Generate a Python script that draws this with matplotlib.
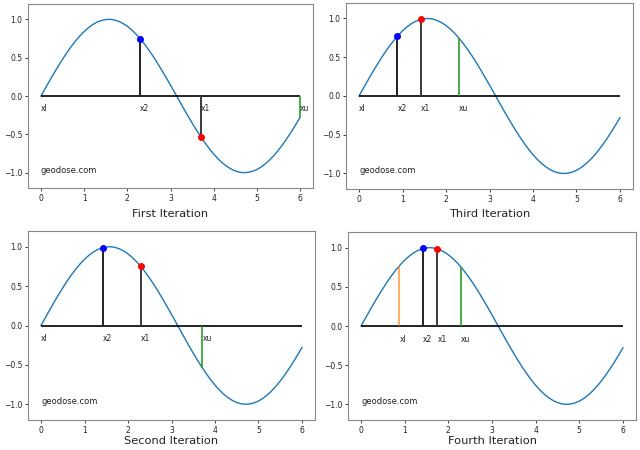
import numpy as np
import matplotlib
matplotlib.use("Agg")
import matplotlib.pyplot as plt

curve_x = np.linspace(0, 6, 61)
curve_y = [0.000, 0.100, 0.199, 0.296, 0.389, 0.479, 0.565, 0.644, 0.717, 0.783,
           0.841, 0.891, 0.932, 0.964, 0.985, 0.997, 1.000, 0.992, 0.974, 0.946,
           0.909, 0.863, 0.808, 0.746, 0.675, 0.598, 0.516, 0.427, 0.335, 0.239,
           0.141, 0.042, -0.058, -0.158, -0.256, -0.351, -0.443, -0.530, -0.612, -0.688,
           -0.757, -0.818, -0.872, -0.916, -0.952, -0.978, -0.994, -1.000, -0.996, -0.982,
           -0.959, -0.926, -0.883, -0.832, -0.773, -0.706, -0.631, -0.551, -0.465, -0.374,
           -0.279]

titles = ["First Iteration", "Second Iteration", "Third Iteration", "Fourth Iteration"]
xl = [0.0, 0.0, 0.0, 0.88]
x2 = [2.29, 1.42, 0.88, 1.42]
x1 = [3.71, 2.29, 1.42, 1.75]
xu = [6.0, 3.71, 2.29, 2.29]
f_xl = [0.0, 0.0, 0.0, 0.77]
f_x2 = [0.75, 0.99, 0.77, 0.99]
f_x1 = [-0.54, 0.75, 0.99, 0.98]
f_xu = [-0.28, -0.54, 0.75, 0.75]
point_labels = ["xl", "x2", "x1", "xu"]
watermark = "geodose.com"

W, H = 640, 450
# axes boxes in pixels: left, top, right, bottom
boxes = [
    (28, 4, 313, 188),     # First (top-left)
    (28, 231, 315, 420),   # Second (bottom-left)
    (346, 3, 633, 189),    # Third (top-right)
    (348, 232, 636, 420),  # Fourth (bottom-right)
]
title_y = [217, 444, 217, 444]

fig = plt.figure(figsize=(6.4, 4.5), dpi=100)
for i in range(4):
    l, t, r, b = boxes[i]
    ax = fig.add_axes([l / W, 1 - b / H, (r - l) / W, (b - t) / H])
    ax.plot(curve_x, curve_y, color="#1f77b4", lw=1.0)
    ax.hlines(0, curve_x[0], curve_x[-1], color="k", lw=1.2)
    ax.vlines(xl[i], 0, f_xl[i], color="#ff7f0e", lw=1.2, alpha=0.75)
    ax.vlines(x2[i], 0, f_x2[i], color="#222222", lw=1.4)
    ax.vlines(x1[i], 0, f_x1[i], color="#3a3a3a", lw=1.4)
    ax.vlines(xu[i], 0, f_xu[i], color="#2ca02c", lw=1.2)
    ax.plot([x2[i]], [f_x2[i]], "o", color="b", ms=4)
    ax.plot([x1[i]], [f_x1[i]], "o", color="r", ms=4)
    for xv, lab in zip([xl[i], x2[i], x1[i], xu[i]], point_labels):
        ax.text(xv, -0.2, lab, fontsize=5.5, color="#222222")
    ax.text(0, -1.0, watermark, fontsize=6, color="#222222")
    ax.set_xlim(-0.3, 6.3)
    ax.set_ylim(-1.2, 1.2)
    ax.set_xticks([0, 1, 2, 3, 4, 5, 6])
    ax.set_yticks([-1.0, -0.5, 0.0, 0.5, 1.0])
    ax.tick_params(labelsize=5.5, length=2, width=0.6, pad=2, colors="#222222")
    for s in ax.spines.values():
        s.set_color("#888888")
        s.set_linewidth(0.8)
    fig.text(((l + r) / 2) / W, 1 - title_y[i] / H, titles[i], ha="center",
             va="baseline", fontsize=8.2, color="#222222")

fig.savefig("out.png", dpi=100)
